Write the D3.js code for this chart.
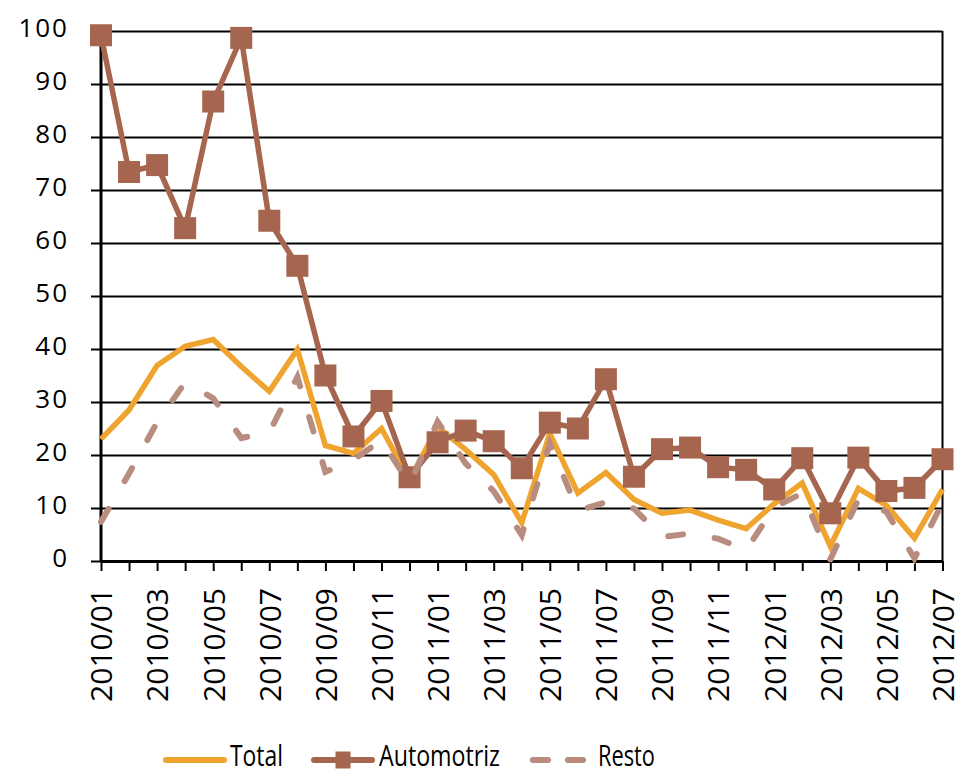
<!DOCTYPE html>
<html>
<head>
<meta charset="utf-8">
<script src="https://cdn.jsdelivr.net/npm/d3@7"></script>
<style>
  html, body { margin: 0; padding: 0; background: #fff; }
  svg { display: block; }
  text { font-family: "Open Sans", "DejaVu Sans", sans-serif; fill: #000; }
</style>
</head>
<body>
<script>
// Monthly index values, 2010/01 – 2012/07
const months = [
  "2010/01","2010/02","2010/03","2010/04","2010/05","2010/06","2010/07","2010/08","2010/09","2010/10","2010/11","2010/12",
  "2011/01","2011/02","2011/03","2011/04","2011/05","2011/06","2011/07","2011/08","2011/09","2011/10","2011/11","2011/12",
  "2012/01","2012/02","2012/03","2012/04","2012/05","2012/06","2012/07"
];
const total = [
  23.0, 28.5, 36.9, 40.5, 41.8, 36.7, 32.0, 39.9, 21.8, 20.3, 25.0, 15.3,
  25.3, 21.0, 16.3, 7.2, 24.1, 12.8, 16.7, 11.6, 9.0, 9.6, 7.7, 6.1,
  10.8, 14.7, 2.8, 13.7, 10.5, 4.3, 13.5
];
const automotriz = [
  99.2, 73.4, 74.7, 62.8, 86.7, 98.7, 64.2, 55.7, 35.0, 23.5, 30.2, 15.8,
  22.4, 24.6, 22.6, 17.5, 26.1, 25.0, 34.3, 15.9, 21.1, 21.4, 17.7, 17.2,
  13.5, 19.4, 9.0, 19.5, 13.2, 13.8, 19.2
];
const resto = [
  7.4, 16.5, 26.2, 33.7, 30.7, 23.2, 24.3, 34.7, 16.8, 19.1, 22.8, 14.5,
  26.3, 18.4, 13.2, 4.9, 22.2, 9.5, 11.1, 9.9, 4.5, 5.2, 4.2, 2.1,
  10.1, 12.8, 0.3, 11.6, 9.3, 0.5, 11.0
];
const yTicks = [0, 10, 20, 30, 40, 50, 60, 70, 80, 90, 100];
const xLabels = months.filter((m, i) => i % 2 === 0);

const seriesNames = ["Total", "Automotriz", "Resto"];
const colors = { Total: "#F0A430", Automotriz: "#A5654E", Resto: "#B98C80" };

const W = 955, H = 769;
const plotL = 101, plotR = 942.5, plotT = 31, plotB = 561;

const svg = d3.select("body").append("svg")
  .attr("width", W).attr("height", H);
svg.append("rect").attr("width", W).attr("height", H).attr("fill", "#fff");

const x = d3.scalePoint().domain(months).range([plotL, plotR]);
const y = d3.scaleLinear().domain([0, 100]).range([plotB, plotT]);

// Y axis with gridlines across the plot
const yAxis = svg.append("g").attr("transform", `translate(${plotL},0)`)
  .call(d3.axisLeft(y).tickValues(yTicks).tickSize(10).tickPadding(22));
yAxis.select(".domain").remove();
yAxis.selectAll(".tick line")
  .attr("x1", -10).attr("x2", plotR - plotL)
  .attr("stroke", "#000").attr("stroke-width", 2);
yAxis.selectAll(".tick text")
  .attr("font-size", 26).attr("letter-spacing", 2)
  .attr("dy", "0.22em").attr("x", -32);

// Right frame line
svg.append("line")
  .attr("x1", plotR).attr("x2", plotR).attr("y1", plotT).attr("y2", plotB)
  .attr("stroke", "#000").attr("stroke-width", 2);

// Left axis line
svg.append("line")
  .attr("x1", plotL).attr("x2", plotL).attr("y1", plotT - 1).attr("y2", plotB)
  .attr("stroke", "#000").attr("stroke-width", 3);

// X axis
const xAxis = svg.append("g").attr("transform", `translate(0,${plotB})`)
  .call(d3.axisBottom(x).tickSize(10).tickSizeOuter(0)
    .tickFormat(d => xLabels.includes(d) ? d : ""));
xAxis.select(".domain").attr("stroke", "#000").attr("stroke-width", 3);
xAxis.selectAll(".tick line").attr("stroke", "#000").attr("stroke-width", 2);
xAxis.selectAll(".tick text")
  .attr("font-size", 30)
  .attr("transform", "rotate(-90)")
  .attr("text-anchor", "end")
  .attr("x", -27).attr("y", 0).attr("dy", "0.36em");

const line = d3.line().x((d, i) => x(months[i])).y(d => y(d));

// Total
svg.append("path").datum(total)
  .attr("d", line).attr("fill", "none")
  .attr("stroke", colors.Total).attr("stroke-width", 5.5);

// Automotriz with square markers
svg.append("path").datum(automotriz)
  .attr("d", line).attr("fill", "none")
  .attr("stroke", colors.Automotriz).attr("stroke-width", 5.5);
const sq = 22;
svg.append("g").selectAll("rect").data(automotriz).join("rect")
  .attr("x", (d, i) => x(months[i]) - sq / 2)
  .attr("y", d => y(d) - sq / 2)
  .attr("width", sq).attr("height", sq)
  .attr("fill", colors.Automotriz);

// Resto (dashed)
svg.append("path").datum(resto)
  .attr("d", line).attr("fill", "none")
  .attr("stroke", colors.Resto).attr("stroke-width", 6)
  .attr("stroke-dasharray", "15,32").attr("stroke-linecap", "round");

// Legend
const legY = 760, legBase = 766;
const leg = svg.append("g");
leg.append("line").attr("x1", 166).attr("x2", 224).attr("y1", legY).attr("y2", legY)
  .attr("stroke", colors.Total).attr("stroke-width", 6).attr("stroke-linecap", "round");
leg.append("text").attr("x", 230).attr("y", legBase).attr("font-size", 30)
  .attr("textLength", 53).attr("lengthAdjust", "spacingAndGlyphs").text(seriesNames[0]);

leg.append("line").attr("x1", 314).attr("x2", 372).attr("y1", legY).attr("y2", legY)
  .attr("stroke", colors.Automotriz).attr("stroke-width", 6).attr("stroke-linecap", "round");
leg.append("rect").attr("x", 335.5).attr("y", legY - 8.5).attr("width", 15).attr("height", 17)
  .attr("fill", colors.Automotriz);
leg.append("text").attr("x", 379).attr("y", legBase).attr("font-size", 30)
  .attr("textLength", 121).attr("lengthAdjust", "spacingAndGlyphs").text(seriesNames[1]);

leg.append("line").attr("x1", 533).attr("x2", 586).attr("y1", legY).attr("y2", legY)
  .attr("stroke", colors.Resto).attr("stroke-width", 6).attr("stroke-linecap", "round")
  .attr("stroke-dasharray", "15,20");
leg.append("text").attr("x", 598).attr("y", legBase).attr("font-size", 30)
  .attr("textLength", 57).attr("lengthAdjust", "spacingAndGlyphs").text(seriesNames[2]);
</script>
</body>
</html>
